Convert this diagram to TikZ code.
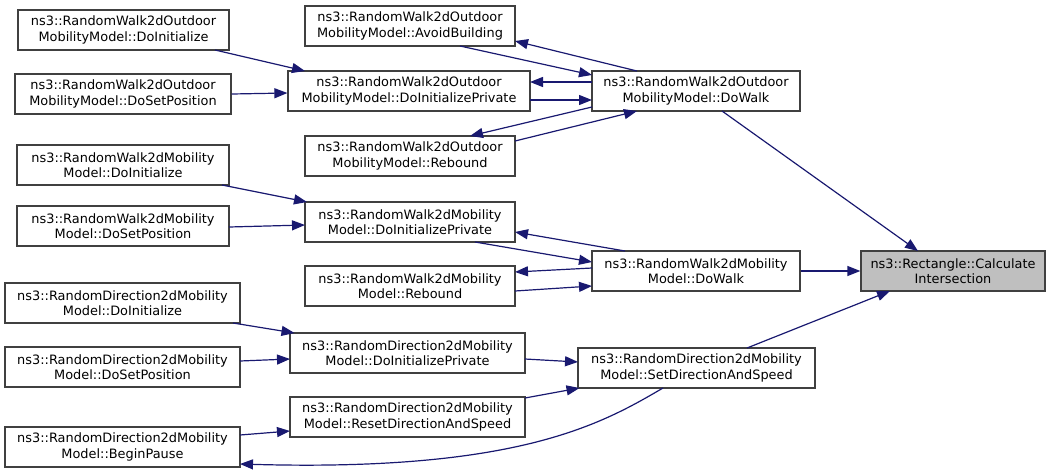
\documentclass[tikz,border=0pt]{standalone}
\usepackage{fontspec}
\setmainfont{DejaVu Sans}
\usetikzlibrary{arrows.meta}
\definecolor{edgeblue}{HTML}{191970}
\definecolor{boxline}{HTML}{404040}
\definecolor{hlfill}{HTML}{BFBFBF}
\tikzset{
  fn/.style={draw=boxline, line width=1.2pt, fill=white, rectangle, align=center,
    minimum height=40pt, inner sep=0pt, text=black,
    font=\fontsize{12.9}{15.5}\selectfont},
  hl/.style={fn, fill=hlfill},
  call/.style={draw=edgeblue, line width=1.2pt, -{Triangle[length=13pt,width=10pt]}, color=edgeblue},
}
\begin{document}
\begin{tikzpicture}[x=1pt,y=-1pt]
\useasboundingbox (0,0) rectangle (1053,475);
% rank 3
\node[fn, minimum width=211pt] (A1) at (123.5,30) {ns3::RandomWalk2dOutdoor\\MobilityModel::DoInitialize};
\node[fn, minimum width=216pt] (A2) at (123,94) {ns3::RandomWalk2dOutdoor\\MobilityModel::DoSetPosition};
\node[fn, minimum width=212pt] (B1) at (123,165) {ns3::RandomWalk2dMobility\\Model::DoInitialize};
\node[fn, minimum width=212pt] (B2) at (123,226) {ns3::RandomWalk2dMobility\\Model::DoSetPosition};
\node[fn, minimum width=235pt] (C1) at (122.5,303) {ns3::RandomDirection2dMobility\\Model::DoInitialize};
\node[fn, minimum width=235pt] (C2) at (122.5,367) {ns3::RandomDirection2dMobility\\Model::DoSetPosition};
\node[fn, minimum width=235pt] (C3) at (122.5,447) {ns3::RandomDirection2dMobility\\Model::BeginPause};
% rank 2
\node[fn, minimum width=210pt] (OAB) at (410,26) {ns3::RandomWalk2dOutdoor\\MobilityModel::AvoidBuilding};
\node[fn, minimum width=242pt] (OIP) at (409,91) {ns3::RandomWalk2dOutdoor\\MobilityModel::DoInitializePrivate};
\node[fn, minimum width=210pt] (ORB) at (410,156) {ns3::RandomWalk2dOutdoor\\MobilityModel::Rebound};
\node[fn, minimum width=210pt] (BIP) at (410,222) {ns3::RandomWalk2dMobility\\Model::DoInitializePrivate};
\node[fn, minimum width=210pt] (BRB) at (410,286) {ns3::RandomWalk2dMobility\\Model::Rebound};
\node[fn, minimum width=235pt] (CIP) at (407.5,353) {ns3::RandomDirection2dMobility\\Model::DoInitializePrivate};
\node[fn, minimum width=235pt] (CRD) at (407.5,417) {ns3::RandomDirection2dMobility\\Model::ResetDirectionAndSpeed};
% rank 1
\node[fn, minimum width=208pt] (ODW) at (696,91) {ns3::RandomWalk2dOutdoor\\MobilityModel::DoWalk};
\node[fn, minimum width=208pt] (BDW) at (696,271) {ns3::RandomWalk2dMobility\\Model::DoWalk};
\node[fn, minimum width=237pt] (CSD) at (696.5,368) {ns3::RandomDirection2dMobility\\Model::SetDirectionAndSpeed};
% rank 0
\node[hl, minimum width=184pt] (RECT) at (953,271) {ns3::Rectangle::Calculate\\Intersection};
% edges, outdoor group
\draw[call] ([shift={(91.5,20)}]A1.center) -- ([shift={(-104,-20)}]OIP.center);
\draw[call] (A2.east) -- ([shift={(0,2)}]OIP.west);
\draw[call] ([shift={(-59,-20)}]ODW.center) -- ([shift={(105,15)}]OAB.center);
\draw[call] ([shift={(50,20)}]OAB.center) -- ([shift={(-104,-16)}]ODW.center);
\draw[call] ([shift={(-104,-9)}]ODW.center) -- ([shift={(121,-9)}]OIP.center);
\draw[call] ([shift={(121,9)}]OIP.center) -- ([shift={(-104,9)}]ODW.center);
\draw[call] ([shift={(-104,16)}]ODW.center) -- ([shift={(60,-20)}]ORB.center);
\draw[call] ([shift={(105,-15)}]ORB.center) -- ([shift={(-59,20)}]ODW.center);
\draw[call] ([shift={(26,20)}]ODW.center) -- ([shift={(-35,-20)}]RECT.center);
% edges, walk group
\draw[call] ([shift={(99,20)}]B1.center) -- ([shift={(-103,-20)}]BIP.center);
\draw[call] ([shift={(106,1)}]B2.center) -- ([shift={(-105,3)}]BIP.center);
\draw[call] ([shift={(-71,-20)}]BDW.center) -- ([shift={(105,10)}]BIP.center);
\draw[call] ([shift={(65,20)}]BIP.center) -- ([shift={(-104,-9)}]BDW.center);
\draw[call] ([shift={(-104,-3)}]BDW.center) -- ([shift={(105,-14)}]BRB.center);
\draw[call] ([shift={(105,5)}]BRB.center) -- ([shift={(-104,15)}]BDW.center);
\draw[call] (BDW.east) -- (RECT.west);
% edges, direction group
\draw[call] ([shift={(110.5,20)}]C1.center) -- ([shift={(-113,-20)}]CIP.center);
\draw[call] ([shift={(117.5,-6)}]C2.center) -- ([shift={(-117.5,6)}]CIP.center);
\draw[call] ([shift={(117.5,6)}]CIP.center) -- ([shift={(-118.5,-6)}]CSD.center);
\draw[call] ([shift={(117.5,-19)}]CRD.center) -- ([shift={(-117,20)}]CSD.center);
\draw[call] ([shift={(117.5,-12)}]C3.center) -- ([shift={(-117.5,14)}]CRD.center);
\draw[call] ([shift={(-33.5,20)}]CSD.center) .. controls (603,423) and (520,472) .. ([shift={(117.5,17)}]C3.center);
\draw[call] ([shift={(50.5,-20)}]CSD.center) -- ([shift={(-63,20)}]RECT.center);
\end{tikzpicture}
\end{document}
